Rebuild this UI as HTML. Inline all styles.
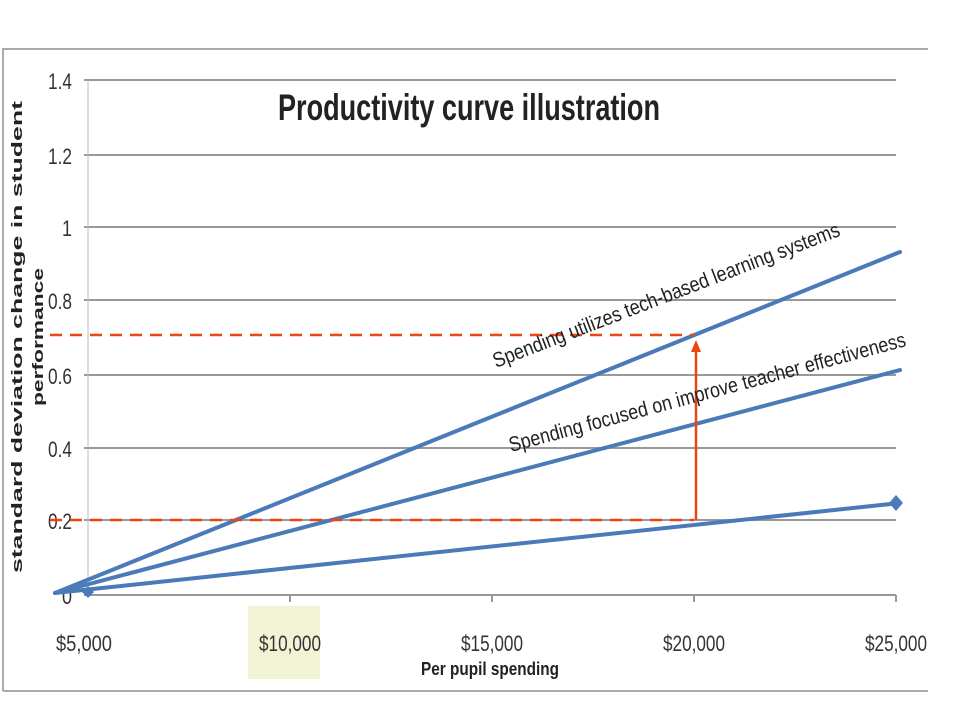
<!DOCTYPE html>
<html><head><meta charset="utf-8"><style>html,body{margin:0;padding:0;background:#fff}svg{display:block}</style></head><body>
<svg width="960" height="720" xmlns="http://www.w3.org/2000/svg" font-family="Liberation Sans, sans-serif">
<rect x="0" y="0" width="960" height="720" fill="#fff"/>
<path d="M3 691 V49 H928" fill="none" stroke="#aaa" stroke-width="2"/>
<line x1="3" y1="691" x2="928" y2="691" stroke="#aaa" stroke-width="2"/>
<g stroke="#999" stroke-width="2">
<line x1="84" y1="80" x2="896" y2="80"/>
<line x1="84" y1="155" x2="896" y2="155"/>
<line x1="84" y1="227" x2="896" y2="227"/>
<line x1="84" y1="300" x2="896" y2="300"/>
<line x1="84" y1="375" x2="896" y2="375"/>
<line x1="84" y1="448" x2="896" y2="448"/>
<line x1="84" y1="520" x2="896" y2="520"/>
<line x1="84" y1="595" x2="896" y2="595"/>
<line x1="88" y1="80" x2="88" y2="595" stroke="#bbb" stroke-width="1"/>
<line x1="290" y1="595" x2="290" y2="602"/>
<line x1="492" y1="595" x2="492" y2="602"/>
<line x1="694" y1="595" x2="694" y2="602"/>
<line x1="896" y1="595" x2="896" y2="602"/>
</g>
<rect x="248" y="606" width="72" height="73" fill="#f2f2d4"/>
<g font-size="22" fill="#333" text-anchor="end">
<text x="72" y="89" textLength="24" lengthAdjust="spacingAndGlyphs">1.4</text>
<text x="72" y="164" textLength="24" lengthAdjust="spacingAndGlyphs">1.2</text>
<text x="72" y="236" textLength="10" lengthAdjust="spacingAndGlyphs">1</text>
<text x="72" y="309" textLength="24" lengthAdjust="spacingAndGlyphs">0.8</text>
<text x="72" y="384" textLength="24" lengthAdjust="spacingAndGlyphs">0.6</text>
<text x="72" y="457" textLength="24" lengthAdjust="spacingAndGlyphs">0.4</text>
<text x="72" y="529" textLength="24" lengthAdjust="spacingAndGlyphs">0.2</text>
<text x="72" y="604" textLength="10" lengthAdjust="spacingAndGlyphs">0</text>
</g>
<g font-size="22" fill="#333" text-anchor="middle">
<text x="84" y="651" textLength="56" lengthAdjust="spacingAndGlyphs">$5,000</text>
<text x="290" y="651" textLength="62" lengthAdjust="spacingAndGlyphs">$10,000</text>
<text x="492" y="651" textLength="62" lengthAdjust="spacingAndGlyphs">$15,000</text>
<text x="694" y="651" textLength="62" lengthAdjust="spacingAndGlyphs">$20,000</text>
<text x="896" y="651" textLength="62" lengthAdjust="spacingAndGlyphs">$25,000</text>
</g>
<text x="490" y="675" font-size="18" font-weight="bold" fill="#222" text-anchor="middle" textLength="138" lengthAdjust="spacingAndGlyphs">Per pupil spending</text>
<text x="469" y="120" font-size="37" font-weight="bold" fill="#222" text-anchor="middle" textLength="382" lengthAdjust="spacingAndGlyphs">Productivity curve illustration</text>
<text transform="translate(22,337) rotate(-90)" font-size="15" font-weight="bold" fill="#222" text-anchor="middle" textLength="472" lengthAdjust="spacingAndGlyphs">standard deviation change in student</text>
<text transform="translate(43,337) rotate(-90)" font-size="15" font-weight="bold" fill="#222" text-anchor="middle" textLength="138" lengthAdjust="spacingAndGlyphs">performance</text>
<g stroke="#4a7ab8" stroke-width="4" stroke-linecap="round" fill="none">
<line x1="55" y1="593" x2="900" y2="252"/>
<line x1="55" y1="593" x2="900" y2="370"/>
<line x1="55" y1="593" x2="900" y2="503"/>
</g>
<path d="M88 586 L94 592 L88 598 L82 592Z" fill="#4a7ab8"/>
<path d="M896 495 L903 503 L896 511 L889 503Z" fill="#4a7ab8"/>
<g stroke="#ee4411" stroke-width="2.5" stroke-dasharray="12,8">
<line x1="50" y1="335" x2="694" y2="335"/>
<line x1="50" y1="520" x2="694" y2="520"/>
</g>
<line x1="696" y1="520" x2="696" y2="350" stroke="#ee4411" stroke-width="2.5"/>
<path d="M696 340 L691 352 L701 352Z" fill="#ee4411"/>
<g font-size="21" fill="#222">
<text transform="translate(496,368) rotate(-21)" textLength="370" lengthAdjust="spacingAndGlyphs">Spending utilizes tech-based learning systems</text>
<text transform="translate(511,452) rotate(-15)" textLength="410" lengthAdjust="spacingAndGlyphs">Spending focused on improve teacher effectiveness</text>
</g>
</svg>
</body></html>
